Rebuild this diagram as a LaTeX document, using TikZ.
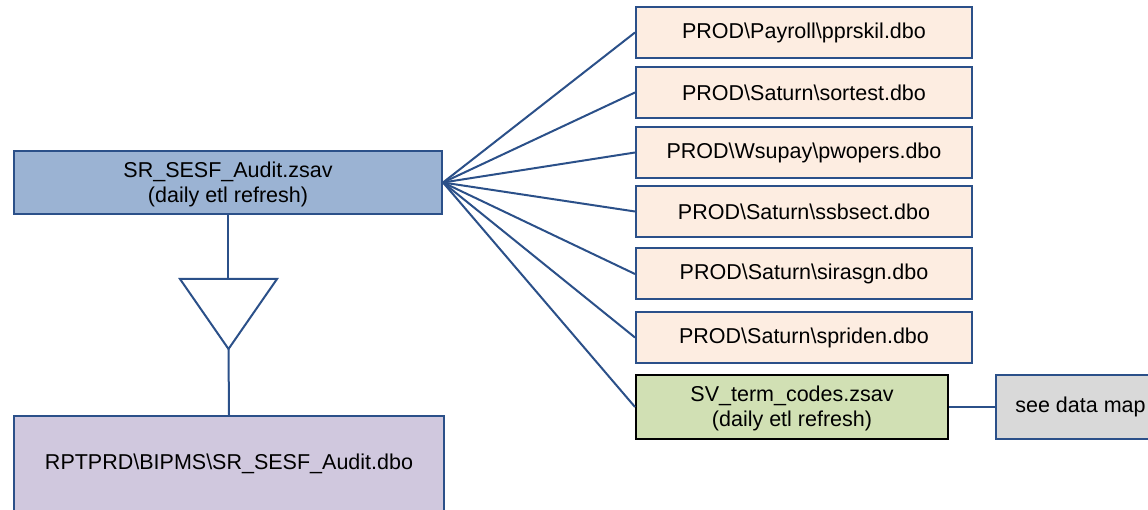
\documentclass[tikz,border=0pt]{standalone}
\usepackage{fontspec}
\setmainfont{Liberation Sans}
\definecolor{bordc}{HTML}{2B5089}
\definecolor{linec}{HTML}{2B5089}
\definecolor{mainfill}{HTML}{9BB3D3}
\definecolor{peach}{HTML}{FDEDE1}
\definecolor{greenf}{HTML}{D1E0B4}
\definecolor{grayf}{HTML}{D9D9D9}
\definecolor{lavf}{HTML}{D0C8DE}
\begin{document}
\begin{tikzpicture}[x=1pt,y=-1pt,
  txt/.style={font=\fontsize{21.5}{25}\selectfont, text=black, align=center},
  box/.style={txt, draw=bordc, line width=2pt, inner sep=0pt},
  mainbox/.style={box, fill=mainfill, minimum width=428pt, minimum height=63pt},
  srcbox/.style={box, fill=peach, minimum width=336pt, minimum height=51pt},
  greenbox/.style={box, draw=black, fill=greenf, minimum width=312pt, minimum height=64pt},
  graybox/.style={box, fill=grayf, minimum width=169pt, minimum height=64pt},
  lavbox/.style={box, fill=lavf, minimum width=430pt, minimum height=120pt},
  conn/.style={draw=linec, line width=2pt},
]
\useasboundingbox (0,0) rectangle (1148,510);
\clip (0,0) rectangle (1148,510);

\node[mainbox] (main) at (228,182.5) {};
\node[txt] (maintxt) at (228,184) {SR\_SESF\_Audit.zsav\\(daily etl refresh)};

\node[srcbox] (s1) at (804,32.5) {PROD\textbackslash Payroll\textbackslash pprskil.dbo};
\node[srcbox] (s2) at (804,92.5) {PROD\textbackslash Saturn\textbackslash sortest.dbo};
\node[srcbox] (s3) at (804,152.5) {PROD\textbackslash Wsupay\textbackslash pwopers.dbo};
\node[srcbox] (s4) at (804,211.5) {PROD\textbackslash Saturn\textbackslash ssbsect.dbo};
\node[srcbox] (s5) at (804,274) {PROD\textbackslash Saturn\textbackslash sirasgn.dbo};
\node[srcbox] (s6) at (804,337.5) {PROD\textbackslash Saturn\textbackslash spriden.dbo};
\node[greenbox] (sv) at (792,407) {};
\node[txt] (svtxt) at (792,408) {SV\_term\_codes.zsav\\(daily etl refresh)};
\node[graybox] (map) at (1080.5,407) {see data map};

\node[lavbox, anchor=north] (rpt) at (229,415) {};
\node[txt, anchor=base] (rpttxt) at (229,469) {RPTPRD\textbackslash BIPMS\textbackslash SR\_SESF\_Audit.dbo};

% triangle
\coordinate (tl) at (180,279);
\coordinate (tr) at (277,279);
\coordinate (ttop) at (228,279);
\coordinate (tap) at (228.5,349);
\draw[conn, line join=miter] (tl) -- (tr) -- (tap) -- cycle;

\draw[conn] (main.south) -- (ttop);
\draw[conn] (tap) -- (rpt.north);

\foreach \n in {s1,s2,s3,s4,s5,s6,sv}
  \draw[conn] (main.east) -- (\n.west);
\draw[conn] (sv.east) -- (map.west);
\end{tikzpicture}
\end{document}
